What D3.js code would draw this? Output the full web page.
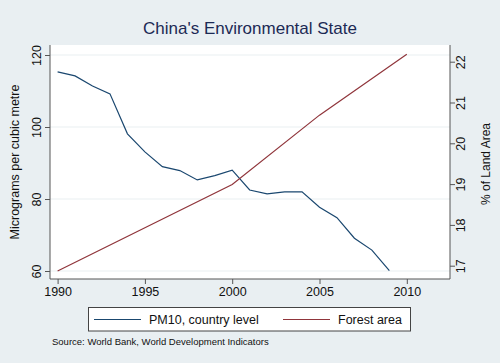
<!DOCTYPE html>
<html>
<head>
<meta charset="utf-8">
<script src="https://cdn.jsdelivr.net/npm/d3@7"></script>
<style>
  body { margin: 0; background: #e9eff2; }
  svg { display: block; font-family: "Liberation Sans", Arial, sans-serif; }
</style>
</head>
<body>
<main></main>
<script>
const pmYears = [1990, 1991, 1992, 1993, 1994, 1995, 1996, 1997, 1998, 1999,
                 2000, 2001, 2002, 2003, 2004, 2005, 2006, 2007, 2008, 2009];
const pmValues = [115.3, 114.2, 111.4, 109.2, 98.1, 93.1, 89.0, 87.9, 85.3, 86.5,
                  88.0, 82.5, 81.4, 82.0, 82.0, 77.7, 74.8, 69.1, 65.8, 60.1];
const forestYears = [1990, 2000, 2005, 2010];
const forestValues = [16.87, 18.99, 20.69, 22.18];
const xTicks = [1990, 1995, 2000, 2005, 2010];
const leftTicks = [60, 80, 100, 120];
const rightTicks = [17, 18, 19, 20, 21, 22];

const svgSize = { width: 500, height: 363 };
const plot = { left: 50, right: 450, top: 45, bottom: 279 };
const colors = { pm: "#1a476f", forest: "#90353b", axis: "#555", grid: "#e9eff2", text: "#111" };

const createCanvas = () => {
    return d3.select("main")
        .append("svg")
        .attr("width", svgSize.width)
        .attr("height", svgSize.height);
};

const defineScales = () => {
    const xScale = d3.scaleLinear().domain([1990, 2010]).range([57.6, 406.8]);
    const yLeft = d3.scaleLinear().domain([60, 120]).range([271, 55]);
    const yRight = d3.scaleLinear().domain([17, 22]).range([265.7, 61.7]);
    return { xScale, yLeft, yRight };
};

const createFrame = (svg, scales) => {
    svg.append("rect")
        .attr("x", plot.left).attr("y", plot.top)
        .attr("width", plot.right - plot.left)
        .attr("height", plot.bottom - plot.top)
        .attr("fill", "#fff");

    svg.append("g")
        .selectAll("line")
        .data(leftTicks)
        .enter()
        .append("line")
        .attr("x1", plot.left).attr("x2", plot.right)
        .attr("y1", d => scales.yLeft(d)).attr("y2", d => scales.yLeft(d))
        .attr("stroke", colors.grid)
        .attr("stroke-width", 1.2);
};

const styleAxis = (g) => {
    g.select(".domain").attr("stroke", colors.axis);
    g.selectAll(".tick line").attr("stroke", colors.axis);
    g.selectAll("text").attr("fill", colors.text).attr("font-size", 12.5)
        .attr("font-family", "Liberation Sans, Arial, sans-serif");
};

const createAxes = (svg, scales) => {
    const xg = svg.append("g")
        .attr("transform", `translate(0, ${plot.bottom})`)
        .call(d3.axisBottom(scales.xScale).tickValues(xTicks).tickFormat(d3.format("d"))
            .tickSizeOuter(0).tickSize(5).tickPadding(3));
    xg.select(".domain").attr("d", `M${plot.left},0H${plot.right}`);
    styleAxis(xg);

    const yl = svg.append("g")
        .attr("transform", `translate(${plot.left}, 0)`)
        .call(d3.axisLeft(scales.yLeft).tickValues(leftTicks).tickFormat(d3.format("d"))
            .tickSizeOuter(0).tickSize(5));
    yl.select(".domain").attr("d", `M0,${plot.top}V${plot.bottom}`);
    styleAxis(yl);
    yl.selectAll(".tick text")
        .attr("x", 0)
        .attr("text-anchor", "middle")
        .attr("transform", "translate(-13,0) rotate(-90)")
        .attr("dy", "0.35em");

    const yr = svg.append("g")
        .attr("transform", `translate(${plot.right}, 0)`)
        .call(d3.axisRight(scales.yRight).tickValues(rightTicks).tickFormat(d3.format("d"))
            .tickSizeOuter(0).tickSize(5));
    yr.select(".domain").attr("d", `M0,${plot.top}V${plot.bottom}`);
    styleAxis(yr);
    yr.selectAll(".tick text")
        .attr("x", 0)
        .attr("text-anchor", "middle")
        .attr("transform", "translate(11,0) rotate(-90)")
        .attr("dy", "0.35em");

    svg.append("text")
        .attr("transform", "translate(19, 162) rotate(-90)")
        .attr("text-anchor", "middle")
        .attr("font-size", 12.5)
        .attr("fill", colors.text)
        .text("Micrograms per cubic metre");

    svg.append("text")
        .attr("transform", "translate(490, 164) rotate(-90)")
        .attr("text-anchor", "middle")
        .attr("font-size", 12)
        .attr("fill", colors.text)
        .text("% of Land Area");
};

const createLines = (svg, scales) => {
    const pmLine = d3.line()
        .x((d, i) => scales.xScale(pmYears[i]))
        .y(d => scales.yLeft(d));
    svg.append("path")
        .datum(pmValues)
        .attr("d", pmLine)
        .attr("fill", "none")
        .attr("stroke", colors.pm)
        .attr("stroke-width", 1.2);

    const forestLine = d3.line()
        .x((d, i) => scales.xScale(forestYears[i]))
        .y(d => scales.yRight(d));
    svg.append("path")
        .datum(forestValues)
        .attr("d", forestLine)
        .attr("fill", "none")
        .attr("stroke", colors.forest)
        .attr("stroke-width", 1.2);
};

const createTitle = (svg) => {
    svg.append("text")
        .attr("x", 250).attr("y", 34)
        .attr("text-anchor", "middle")
        .attr("font-size", 17)
        .attr("fill", "#1c2a55")
        .text("China's Environmental State");
};

const createLegend = (svg) => {
    const g = svg.append("g");
    g.append("rect")
        .attr("x", 88.5).attr("y", 307.5)
        .attr("width", 322).attr("height", 23.5)
        .attr("fill", "#fff")
        .attr("stroke", "#444");
    const items = [
        { label: "PM10, country level", color: colors.pm, x: 94 },
        { label: "Forest area", color: colors.forest, x: 283 }
    ];
    items.forEach(item => {
        g.append("line")
            .attr("x1", item.x).attr("x2", item.x + 47)
            .attr("y1", 319.5).attr("y2", 319.5)
            .attr("stroke", item.color).attr("stroke-width", 1.1);
        g.append("text")
            .attr("x", item.x + 55).attr("y", 324)
            .attr("font-size", 12.5)
            .attr("fill", colors.text)
            .text(item.label);
    });

    svg.append("text")
        .attr("x", 52).attr("y", 345)
        .attr("font-size", 9.5)
        .attr("fill", colors.text)
        .text("Source: World Bank, World Development Indicators");
};

const driver = () => {
    const svg = createCanvas();
    const scales = defineScales();
    createTitle(svg);
    createFrame(svg, scales);
    createLines(svg, scales);
    createAxes(svg, scales);
    createLegend(svg);
};

driver();
</script>
</body>
</html>
